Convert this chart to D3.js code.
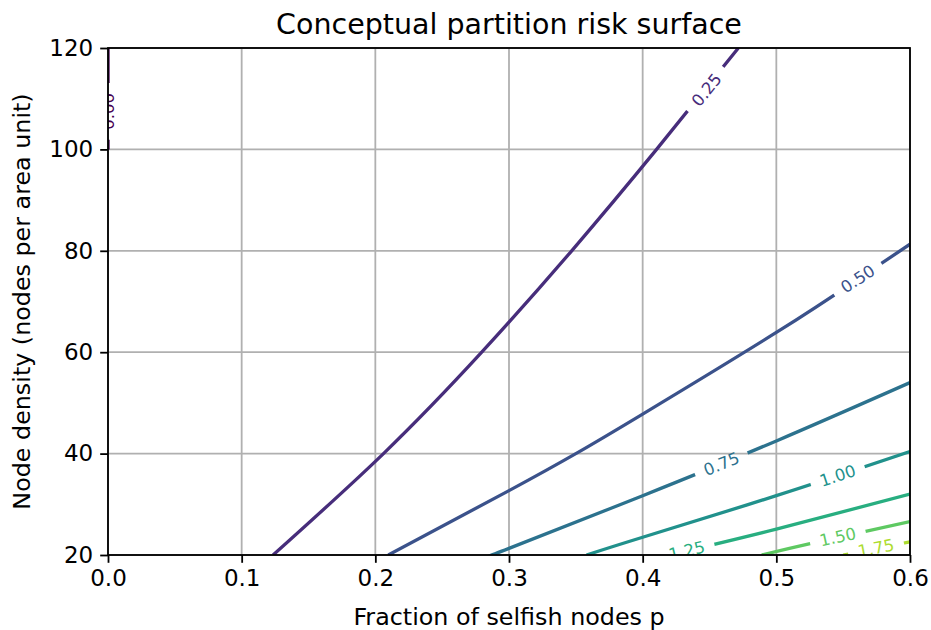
<!DOCTYPE html>
<html>
<head>
<meta charset="utf-8">
<script src="https://cdn.jsdelivr.net/npm/d3@7/dist/d3.min.js"></script>
<style>
  body { margin: 0; background: #fff; }
  text { font-family: "DejaVu Sans", sans-serif; }
</style>
</head>
<body>
<div class="chart"></div>
<script>
// contour levels and the lines, [p, density]
var levels = [0.00, 0.25, 0.50, 0.75, 1.00, 1.25, 1.50, 1.75];
var levelText = ["0.00", "0.25", "0.50", "0.75", "1.00", "1.25", "1.50", "1.75"];

var line000 = [[0, 100], [0, 120]];
var line025 = [[0.1235, 20], [0.2061, 40], [0.2796, 60], [0.3469, 80], [0.4104, 100], [0.4716, 120]];
var line050 = [[0.2097, 20], [0.300, 32.7], [0.350, 40.0], [0.400, 47.8], [0.500, 63.9], [0.561, 74.4], [0.600, 81.3]];
var line075 = [[0.287, 20], [0.300, 21.3], [0.400, 31.7], [0.500, 42.5], [0.600, 54.0]];
var line100 = [[0.358, 20], [0.400, 23.5], [0.500, 31.7], [0.600, 40.4]];
var line125 = [[0.420, 20], [0.500, 25.1], [0.600, 32.0]];
var line150 = [[0.489, 20], [0.5277, 22.4], [0.600, 26.6]];
var line175 = [[0.550, 20], [0.600, 22.6]];
var contourLines = [line000, line025, line050, line075, line100, line125, line150, line175];

// where the inline labels sit
var labelP = [0, 0.448, 0.561, 0.459, 0.546, 0.433, 0.546, 0.5746];
var labelN = [107.5, 111.7, 74.4, 37.9, 35.6, 20.8, 23.5, 21.3];

var xTicks = [0.0, 0.1, 0.2, 0.3, 0.4, 0.5, 0.6];
var yTicks = [20, 40, 60, 80, 100, 120];

var svgWidth = 931;
var svgHeight = 630;
var margin = { top: 48, right: 21, bottom: 75, left: 108 };
var width = svgWidth - margin.left - margin.right;
var height = svgHeight - margin.top - margin.bottom;

var svg = d3.select(".chart")
  .append("svg")
  .attr("width", svgWidth)
  .attr("height", svgHeight);

var defs = svg.append("defs");
defs.append("clipPath").attr("id", "plotClip")
  .append("rect").attr("width", width).attr("height", height);

var chartGroup = svg.append("g")
  .attr("transform", `translate(${margin.left}, ${margin.top})`);

var xScale = d3.scaleLinear().domain([0, 0.6]).range([0, width]);
var yScale = d3.scaleLinear().domain([20, 120]).range([height, 0]);

// grid
chartGroup.append("g")
  .selectAll("line.gx")
  .data(xTicks)
  .enter()
  .append("line")
  .attr("x1", d => xScale(d)).attr("x2", d => xScale(d))
  .attr("y1", 0).attr("y2", height)
  .attr("stroke", "#b0b0b0").attr("stroke-width", 1.8);

chartGroup.append("g")
  .selectAll("line.gy")
  .data(yTicks)
  .enter()
  .append("line")
  .attr("x1", 0).attr("x2", width)
  .attr("y1", d => yScale(d)).attr("y2", d => yScale(d))
  .attr("stroke", "#b0b0b0").attr("stroke-width", 1.8);

var color = d => d3.interpolateViridis(d / 2);

var lineGen = d3.line()
  .x(d => xScale(d[0]))
  .y(d => yScale(d[1]))
  .curve(d3.curveNatural);
var vertGen = d3.line()
  .x(d => xScale(d[0]))
  .y(d => yScale(d[1]));

var plot = chartGroup.append("g").attr("clip-path", "url(#plotClip)");
var lineLayer = plot.append("g");
var labelLayer = plot.append("g");

// angle of the line at the label, in screen space
function labelAngle(pts, p) {
  if (pts[0][0] === pts[pts.length - 1][0]) return -90;
  for (var i = 0; i < pts.length - 1; i++) {
    if (p >= pts[i][0] && p <= pts[i + 1][0]) {
      var dx = xScale(pts[i + 1][0]) - xScale(pts[i][0]);
      var dy = yScale(pts[i + 1][1]) - yScale(pts[i][1]);
      return Math.atan2(dy, dx) * 180 / Math.PI;
    }
  }
  return 0;
}

levels.forEach(function(lv, i) {
  var pts = contourLines[i];
  var cx = xScale(labelP[i]);
  var cy = yScale(labelN[i]);
  var ang = labelAngle(pts, labelP[i]);

  var label = labelLayer.append("text")
    .attr("transform", `translate(${cx}, ${cy}) rotate(${ang})`)
    .attr("text-anchor", "middle")
    .attr("dominant-baseline", "central")
    .attr("font-size", "16.5px")
    .attr("fill", color(lv))
    .text(levelText[i]);

  var len = label.node().getComputedTextLength() + 20;

  // cut a gap in the line where the label sits
  var mask = defs.append("mask")
    .attr("id", "gap" + i)
    .attr("maskUnits", "userSpaceOnUse")
    .attr("x", -50).attr("y", -50)
    .attr("width", width + 100).attr("height", height + 100);
  mask.append("rect")
    .attr("x", -50).attr("y", -50)
    .attr("width", width + 100).attr("height", height + 100)
    .attr("fill", "white");
  mask.append("rect")
    .attr("x", -len / 2).attr("y", -6)
    .attr("width", len).attr("height", 12)
    .attr("transform", `translate(${cx}, ${cy}) rotate(${ang})`)
    .attr("fill", "black");

  lineLayer.append("path")
    .attr("d", (pts[0][0] === pts[1][0] ? vertGen : lineGen)(pts))
    .attr("fill", "none")
    .attr("stroke", color(lv))
    .attr("stroke-width", 3.3)
    .attr("mask", `url(#gap${i})`);
});

// axes
var xAxis = d3.axisBottom(xScale).tickValues(xTicks).tickFormat(d3.format(".1f"))
  .tickSizeInner(7.8).tickSizeOuter(0).tickPadding(7);
var yAxis = d3.axisLeft(yScale).tickValues(yTicks)
  .tickSizeInner(7.8).tickSizeOuter(0).tickPadding(7);

var gx = chartGroup.append("g")
  .attr("transform", `translate(0, ${height})`)
  .call(xAxis);
var gy = chartGroup.append("g").call(yAxis);

[gx, gy].forEach(function(g) {
  g.select(".domain").remove();
  g.selectAll(".tick line").attr("stroke", "#000").attr("stroke-width", 1.8);
  g.selectAll(".tick text")
    .attr("font-family", "DejaVu Sans")
    .attr("font-size", "23px")
    .attr("fill", "#000");
});

// frame
chartGroup.append("rect")
  .attr("width", width).attr("height", height)
  .attr("fill", "none")
  .attr("stroke", "#000")
  .attr("stroke-width", 1.8);

// titles
svg.append("text")
  .attr("x", margin.left + width / 2)
  .attr("y", 34)
  .attr("text-anchor", "middle")
  .attr("font-size", "28.5px")
  .attr("fill", "#000")
  .text("Conceptual partition risk surface");

svg.append("text")
  .attr("x", margin.left + width / 2)
  .attr("y", 625)
  .attr("text-anchor", "middle")
  .attr("font-size", "23.8px")
  .attr("fill", "#000")
  .text("Fraction of selfish nodes p");

svg.append("text")
  .attr("transform", `translate(30, ${margin.top + height / 2}) rotate(-90)`)
  .attr("text-anchor", "middle")
  .attr("font-size", "23.8px")
  .attr("fill", "#000")
  .text("Node density (nodes per area unit)");
</script>
</body>
</html>
